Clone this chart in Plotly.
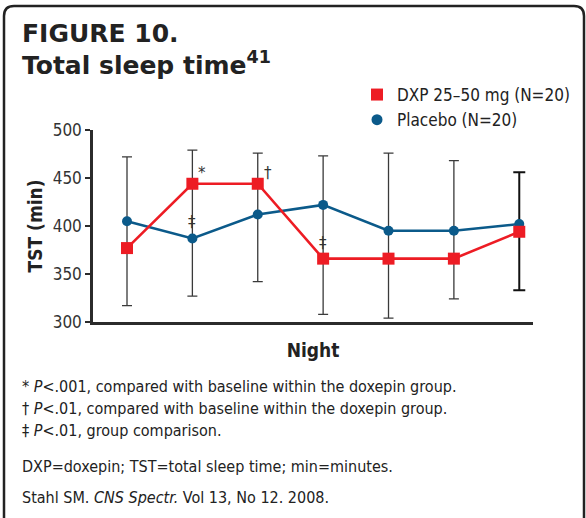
import plotly.graph_objects as go

# ---- data ----
nights = [1, 2, 3, 4, 5, 6, 7]
dxp_tst = [377, 444, 444, 366, 366, 366, 394]
placebo_tst = [405, 387, 412, 422, 395, 395, 402]
bar_high = [472, 479, 476, 473, 476, 468, 456]
bar_low = [317, 327, 342, 308, 304, 324, 333]
yticks = [300, 350, 400, 450, 500]

# significance marks: (night, symbol, series)
sig_nights = [2, 3, 2, 4]
sig_symbols = ["*", "†", "‡", "‡"]
sig_series = ["dxp", "dxp", "placebo", "dxp"]

footnotes = [
    "* <i>P</i>&lt;.001, compared with baseline within the doxepin group.",
    "† <i>P</i>&lt;.01, compared with baseline within the doxepin group.",
    "‡ <i>P</i>&lt;.01, group comparison.",
    "DXP=doxepin; TST=total sleep time; min=minutes.",
    "Stahl SM. <i>CNS Spectr.</i> Vol 13, No 12. 2008.",
]

RED = "#ED1C24"
BLUE = "#0B5A8A"
DARK = "#2b2b2b"
NARROW = "Liberation Sans Narrow, DejaVu Sans Condensed, Arial Narrow, sans-serif"

W, H = 586, 518
L, R, T, B = 93, 53, 130, 196
PW, PH = W - L - R, H - T - B


def px(x):
    return (x - L) / PW


def py(y):
    return (H - B - y) / PH


fig = go.Figure()

# error bars (drawn first, behind lines)
n_soft = len(nights) - 1
fig.add_trace(go.Scatter(
    x=nights[:n_soft], y=bar_low[:n_soft], mode="markers",
    marker=dict(size=1, color="rgba(0,0,0,0)"),
    error_y=dict(type="data", symmetric=False,
                 array=[h - l for h, l in zip(bar_high[:n_soft], bar_low[:n_soft])],
                 arrayminus=[0] * n_soft, color="#3a3a3a", thickness=1.3, width=5),
    showlegend=False, hoverinfo="skip"))
fig.add_trace(go.Scatter(
    x=nights[n_soft:], y=bar_low[n_soft:], mode="markers",
    marker=dict(size=1, color="rgba(0,0,0,0)"),
    error_y=dict(type="data", symmetric=False,
                 array=[h - l for h, l in zip(bar_high[n_soft:], bar_low[n_soft:])],
                 arrayminus=[0], color="#111111", thickness=2.0, width=6),
    showlegend=False, hoverinfo="skip"))

fig.add_trace(go.Scatter(
    x=nights, y=placebo_tst, mode="lines+markers",
    line=dict(color=BLUE, width=2.6),
    marker=dict(symbol="circle", size=10, color=BLUE),
    showlegend=False))
fig.add_trace(go.Scatter(
    x=nights, y=dxp_tst, mode="lines+markers",
    line=dict(color=RED, width=2.6),
    marker=dict(symbol="square", size=12, color=RED),
    showlegend=False))

# legend-only entries
fig.add_trace(go.Scatter(x=[None], y=[None], mode="markers", name="DXP 25–50 mg (N=20)",
                         marker=dict(symbol="square", size=12, color=RED)))
fig.add_trace(go.Scatter(x=[None], y=[None], mode="markers", name="Placebo (N=20)",
                         marker=dict(symbol="circle", size=11, color=BLUE)))

annotations = []
series_map = {"dxp": dxp_tst, "placebo": placebo_tst}
for n, s, ser in zip(sig_nights, sig_symbols, sig_series):
    yv = series_map[ser][nights.index(n)]
    if s == "‡":
        xs, ys = 0, 16
    else:
        xs, ys = 10, 11
    annotations.append(dict(x=n, y=yv, xref="x", yref="y", text=s, showarrow=False,
                            xshift=xs, yshift=ys,
                            font=dict(family="DejaVu Sans", size=15, color="#333")))

# titles
annotations.append(dict(x=px(20), y=py(33), xref="paper", yref="paper", xanchor="left",
                        yanchor="middle", text="<b>FIGURE 10.</b>", showarrow=False,
                        font=dict(family="DejaVu Sans", size=25, color="#222")))
annotations.append(dict(x=px(20), y=py(63), xref="paper", yref="paper", xanchor="left",
                        yanchor="middle", text="<b>Total sleep time<sup>41</sup></b>",
                        showarrow=False,
                        font=dict(family="DejaVu Sans", size=25, color="#222")))

foot_y = [386, 408, 430, 466, 497]
for t, yy in zip(footnotes, foot_y):
    annotations.append(dict(x=px(20), y=py(yy), xref="paper", yref="paper", xanchor="left",
                            yanchor="middle", text=t, showarrow=False,
                            font=dict(family=NARROW, size=16, color="#222")))

# frame with rounded top corners
x0, x1, y0, yb, r = px(4), px(584), py(6), py(530), 10
path = (f"M {x0},{yb} L {x0},{py(6 + r)} Q {x0},{y0} {px(4 + r)},{y0} "
        f"L {px(584 - r)},{y0} Q {x1},{y0} {x1},{py(6 + r)} L {x1},{yb}")

fig.update_layout(
    width=W, height=H,
    margin=dict(l=L, r=R, t=T, b=B, autoexpand=False),
    paper_bgcolor="white", plot_bgcolor="white",
    annotations=annotations,
    shapes=[dict(type="path", path=path, xref="paper", yref="paper",
                 line=dict(color="#222", width=2.5))],
    legend=dict(x=px(357), y=py(77), xanchor="left", yanchor="top",
                bgcolor="rgba(0,0,0,0)", itemwidth=30,
                font=dict(family=NARROW, size=17, color="#222"),
                tracegroupgap=0),
    xaxis=dict(range=[0.48, 7.21], showline=True, linewidth=2.5, linecolor=DARK,
               showgrid=False, zeroline=False, showticklabels=False, ticks="",
               title=dict(text="<b>Night</b>", standoff=20,
                          font=dict(family=NARROW, size=19, color="#222"))),
    yaxis=dict(range=[300, 500], tickvals=yticks, showline=True, linewidth=2.5,
               linecolor=DARK, showgrid=False, zeroline=False, ticks="outside",
               ticklen=5, tickwidth=2, tickcolor=DARK,
               tickfont=dict(family=NARROW, size=17, color="#333"),
               title=dict(text="<b>TST (min)</b>", standoff=6,
                          font=dict(family=NARROW, size=19, color="#222"))),
)

fig.write_html("out.html", config={"displayModeBar": False},
               post_script="document.body.style.margin='0px';")
